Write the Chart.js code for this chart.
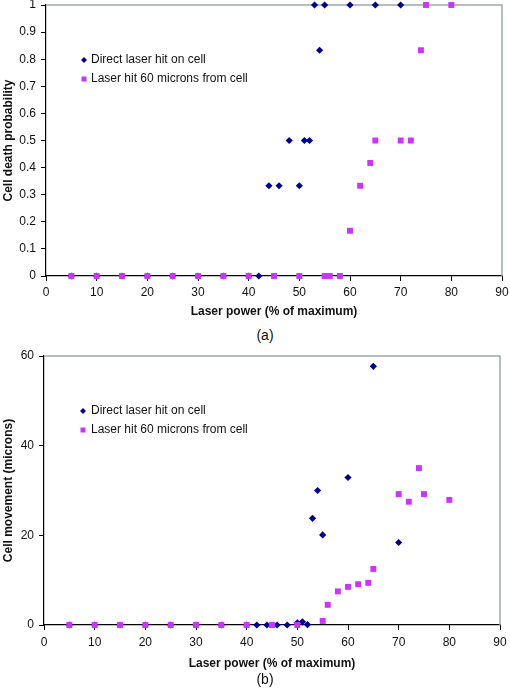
<!DOCTYPE html>
<html>
<head>
<meta charset="utf-8">
<script src="https://cdn.jsdelivr.net/npm/chart.js@4"></script>
<style>
  body { margin: 0; background: #fff; width: 510px; height: 697px; position: relative; overflow: hidden;
         font-family: "Liberation Sans", Arial, sans-serif; }
  .panel { position: absolute; left: 0; }
  .cap { position: absolute; left: 10px; width: 510px; text-align: center; font-size: 14px; color: #111; }
</style>
</head>
<body>
<div class="panel" style="top:0"><canvas id="chartA" width="510" height="325"></canvas></div>
<div class="cap" style="top:327px">(a)</div>
<div class="panel" style="top:340px"><canvas id="chartB" width="510" height="332"></canvas></div>
<div class="cap" style="top:671px">(b)</div>
<script>
// --- data ---
const seriesNames = ['Direct laser hit on cell', 'Laser hit 60 microns from cell'];
const xTicks = [0, 10, 20, 30, 40, 50, 60, 70, 80, 90];

// (a) cell death probability
const yTicksA = [0, 0.1, 0.2, 0.3, 0.4, 0.5, 0.6, 0.7, 0.8, 0.9, 1];
const directPowerA = [5, 10, 15, 20, 25, 30, 35, 40, 42, 44, 46, 48, 50, 51, 52, 53, 54, 55, 60, 65, 70];
const directDeathA = [0, 0, 0, 0, 0, 0, 0, 0, 0, 0.333, 0.333, 0.5, 0.333, 0.5, 0.5, 1, 0.833, 1, 1, 1, 1];
const offsetPowerA = [5, 10, 15, 20, 25, 30, 35, 40, 45, 50, 55, 56, 58, 60, 62, 64, 65, 70, 72, 74, 75, 80];
const offsetDeathA = [0, 0, 0, 0, 0, 0, 0, 0, 0, 0, 0, 0, 0, 0.167, 0.333, 0.417, 0.5, 0.5, 0.5, 0.833, 1, 1];

// (b) cell movement (microns)
const yTicksB = [0, 20, 40, 60];
const directPowerB = [5, 10, 15, 20, 25, 30, 35, 40, 42, 44, 46, 48, 50, 51, 52, 53, 54, 55, 60, 65, 70];
const directMoveB = [0, 0, 0, 0, 0, 0, 0, 0, 0, 0, 0, 0, 0.5, 0.7, 0.1, 23.8, 30.0, 20.1, 32.9, 57.7, 18.4];
const offsetPowerB = [5, 10, 15, 20, 25, 30, 35, 40, 45, 50, 55, 56, 58, 60, 62, 64, 65, 70, 72, 74, 75, 80];
const offsetMoveB = [0, 0, 0, 0, 0, 0, 0, 0, 0, 0, 0.9, 4.5, 7.5, 8.5, 9.1, 9.4, 12.5, 29.2, 27.5, 35.0, 29.2, 27.9];

const BLUE = '#000099';
const PINK = '#cc33ff';
const FONT = "'Liberation Sans', Arial, sans-serif";

const toPoints = (xs, ys) => xs.map((x, i) => ({ x: x, y: ys[i] }));

// no extra label padding, the layout padding sets the plot box
const noPad = (s) => { s.paddingTop = 0; s.paddingBottom = 0; s.paddingLeft = 0; s.paddingRight = 0; };

// gray frame on top/right of the plot area (Excel style)
const framePlugin = {
    id: 'frame',
    beforeDatasetsDraw(chart) {
        const { ctx, chartArea: a } = chart;
        ctx.save();
        ctx.strokeStyle = '#9ea8a8';
        ctx.lineWidth = 1.5;
        ctx.beginPath();
        ctx.moveTo(a.left, a.top);
        ctx.lineTo(a.right, a.top);
        ctx.lineTo(a.right, a.bottom);
        ctx.stroke();
        ctx.restore();
    }
};

// legend drawn inside the plot area
const innerLegend = {
    id: 'innerLegend',
    afterDraw(chart, args, opts) {
        const ctx = chart.ctx;
        ctx.save();
        ctx.font = '12px ' + FONT;
        ctx.textBaseline = 'middle';
        chart.data.datasets.forEach((ds, i) => {
            const y = opts.y + i * opts.gap;
            ctx.fillStyle = ds.backgroundColor;
            ctx.beginPath();
            if (ds.pointStyle === 'rectRot') {
                const r = 3;
                ctx.moveTo(opts.x, y - r);
                ctx.lineTo(opts.x + r, y);
                ctx.lineTo(opts.x, y + r);
                ctx.lineTo(opts.x - r, y);
                ctx.closePath();
            } else {
                ctx.rect(opts.x - 2.5, y - 2.5, 5, 5);
            }
            ctx.fill();
            ctx.fillStyle = '#111';
            ctx.fillText(ds.label, opts.textX, y);
        });
        ctx.restore();
    }
};

function makeChart(id, direct, offset, yTicks, yMax, yTitle, lay) {
    return new Chart(document.getElementById(id), {
        type: 'scatter',
        data: {
            datasets: [
                {
                    label: seriesNames[0],
                    data: direct,
                    pointStyle: 'rectRot',
                    pointRadius: 3.6,
                    pointHoverRadius: 3.6,
                    backgroundColor: BLUE,
                    borderColor: BLUE,
                    borderWidth: 0,
                    clip: false,
                    order: 1
                },
                {
                    label: seriesNames[1],
                    data: offset,
                    pointStyle: 'rect',
                    pointRadius: 4.2,
                    pointHoverRadius: 4.2,
                    backgroundColor: PINK,
                    borderColor: PINK,
                    borderWidth: 0,
                    clip: false,
                    order: 0
                }
            ]
        },
        options: {
            responsive: false,
            animation: false,
            events: [],
            layout: { padding: { top: lay.top, right: lay.right, left: 0, bottom: 0 } },
            scales: {
                x: {
                    type: 'linear',
                    min: 0,
                    max: 90,
                    afterBuildTicks: (s) => { s.ticks = xTicks.map(v => ({ value: v })); },
                    afterFit: (s) => { s.height = lay.xh; noPad(s); },
                    grid: { drawOnChartArea: false, drawTicks: true, tickLength: 5, color: '#000' },
                    border: { display: true, color: '#000', width: 1.2 },
                    ticks: { color: '#111', font: { size: 12, family: FONT }, padding: lay.xpad, maxRotation: 0 },
                    title: {
                        display: true,
                        text: 'Laser power (% of maximum)',
                        color: '#111',
                        font: { size: 12, weight: 'bold', family: FONT },
                        padding: { top: 0, bottom: lay.xtp }
                    }
                },
                y: {
                    type: 'linear',
                    min: 0,
                    max: yMax,
                    afterBuildTicks: (s) => { s.ticks = yTicks.map(v => ({ value: v })); },
                    afterFit: (s) => { s.width = lay.yw; noPad(s); },
                    grid: { drawOnChartArea: false, drawTicks: true, tickLength: 5, color: '#000' },
                    border: { display: true, color: '#000', width: 1.2 },
                    ticks: {
                        color: '#111',
                        font: { size: 12, family: FONT },
                        padding: 5,
                        callback: (v) => String(+v.toFixed(3))
                    },
                    title: {
                        display: true,
                        text: yTitle,
                        color: '#111',
                        font: { size: 12, weight: 'bold', family: FONT },
                        padding: { top: 1, bottom: 0 }
                    }
                }
            },
            plugins: {
                legend: { display: false },
                tooltip: { enabled: false },
                innerLegend: lay.legend
            }
        },
        plugins: [framePlugin, innerLegend]
    });
}

makeChart('chartA', toPoints(directPowerA, directDeathA), toPoints(offsetPowerA, offsetDeathA),
    yTicksA, 1, 'Cell death probability',
    { top: 5, right: 8, xh: 49, yw: 46, xpad: 4, xtp: 6, legend: { x: 84, y: 60, gap: 19, textX: 91 } });

makeChart('chartB', toPoints(directPowerB, directMoveB), toPoints(offsetPowerB, offsetMoveB),
    yTicksB, 60, 'Cell movement (microns)',
    { top: 16, right: 10, xh: 47, yw: 44, xpad: 5, xtp: 1.5, legend: { x: 83, y: 71, gap: 19, textX: 91 } });
</script>
</body>
</html>
